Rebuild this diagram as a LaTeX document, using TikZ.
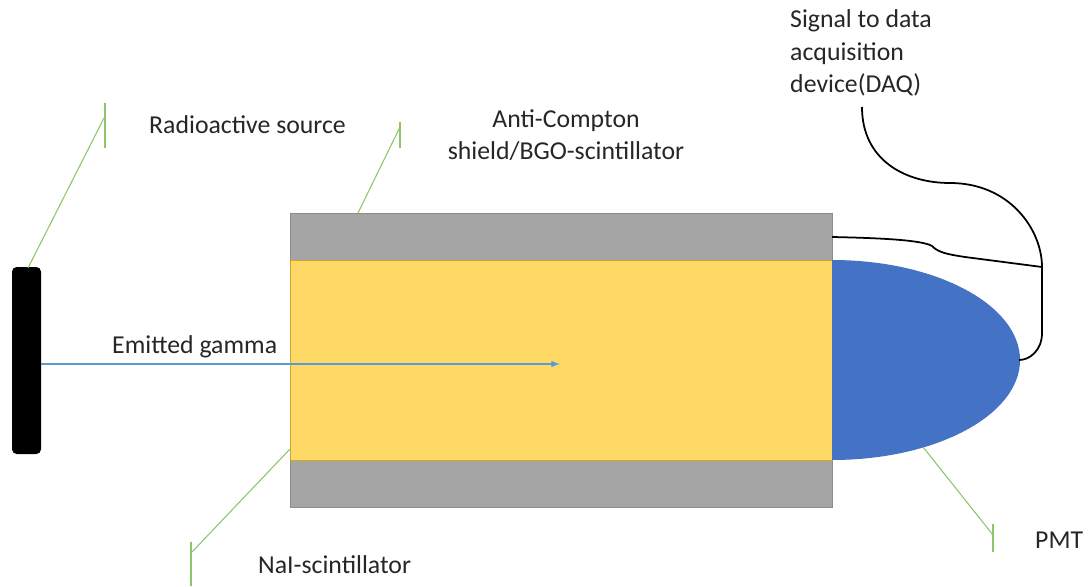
\documentclass[tikz,border=0pt]{standalone}
\usepackage{fontspec}
\setmainfont{Carlito}

\definecolor{shieldgray}{HTML}{A5A5A5}
\definecolor{shieldedge}{HTML}{8C8C8C}
\definecolor{naiyellow}{HTML}{FFD966}
\definecolor{naiedge}{HTML}{D4A42A}
\definecolor{pmtblue}{HTML}{4472C4}
\definecolor{gammablue}{HTML}{5B9BD5}
\definecolor{calloutgreen}{HTML}{8CC56A}

\tikzset{
    callout/.style={draw=calloutgreen, line width=0.9pt},
    label text/.style={anchor=west, inner sep=0pt, text=black!85},
    wire/.style={draw=black, line width=1.5pt},
}

\begin{document}
\begin{tikzpicture}[x=0.03cm, y=-0.03cm, font=\fontsize{22}{27.5}\selectfont]

\useasboundingbox (0,0) rectangle (1091,586);

% Coordinates
\coordinate (GammaStart) at (41,364);
\coordinate (GammaStop) at (560,364);
\coordinate (Junction) at (1042,267);

% Callout coordinates
\coordinate (SourceTip) at (28,268);
\coordinate (SourceBend) at (104,118);
\coordinate (SourceTickA) at (105,103);
\coordinate (SourceTickB) at (105,148);
\coordinate (ShieldTip) at (358,213);
\coordinate (ShieldBend) at (400,127);
\coordinate (ShieldTickA) at (400,122);
\coordinate (ShieldTickB) at (400,148);
\coordinate (NaiTip) at (290,449);
\coordinate (NaiBend) at (192,552);
\coordinate (NaiTickA) at (191,542);
\coordinate (NaiTickB) at (191,586);
\coordinate (PmtTip) at (923,447);
\coordinate (PmtBend) at (993,535);
\coordinate (PmtTickA) at (993,524);
\coordinate (PmtTickB) at (993,552);

% Draws source
\fill[black, rounded corners=4] (12,267) rectangle (41,454);

% Draws shield and scintillator
\path[fill=shieldgray, draw=shieldedge] (290,213) rectangle (832,260);
\path[fill=shieldgray, draw=shieldedge] (290,460) rectangle (832,507);
\path[fill=naiyellow, draw=naiedge] (290,260) rectangle (832,460);

% Draws PMT
\fill[pmtblue] (832,260) arc[start angle=-90, end angle=90, x radius=188, y radius=100] -- cycle;

% Emitted gamma
\path[
    draw=gammablue,
    line width=1.5pt,
    -latex,
    ]
    (GammaStart) -- (GammaStop);
\node[label text] (GammaLabel) at (112,347) {Emitted gamma};

% Labels
\node[label text] (SourceLabel) at (149,125) {Radioactive source};
\node[align=center, inner sep=0pt, text=black!85] (ShieldLabel) at (566,135)
    {Anti-Compton\\shield/BGO-scintillator};
\node[label text] (NaiLabel) at (258,565) {NaI-scintillator};
\node[label text] (PmtLabel) at (1035,540) {PMT};
\node[label text, align=left] (DaqLabel) at (790,53)
    {Signal to data\\acquisition\\device(DAQ)};

% Callouts
\foreach \n in {Source,Shield,Nai,Pmt} {
    \draw[callout] (\n Tip) -- (\n Bend);
    \draw[callout] (\n TickA) -- (\n TickB);
}

% Signal wires
\path[wire]
    (862,107) .. controls (862,160) and (905,183) .. (950,183)
    .. controls (1010,183) and (1042,230) .. (Junction)
    -- (1042,333) .. controls (1042,350) and (1030,360) .. (1019,360);
\path[wire]
    (832,237) .. controls (880,238) and (922,240) .. (932,246)
    .. controls (938,252) and (945,254) .. (965,257) -- (Junction);

\end{tikzpicture}
\end{document}
